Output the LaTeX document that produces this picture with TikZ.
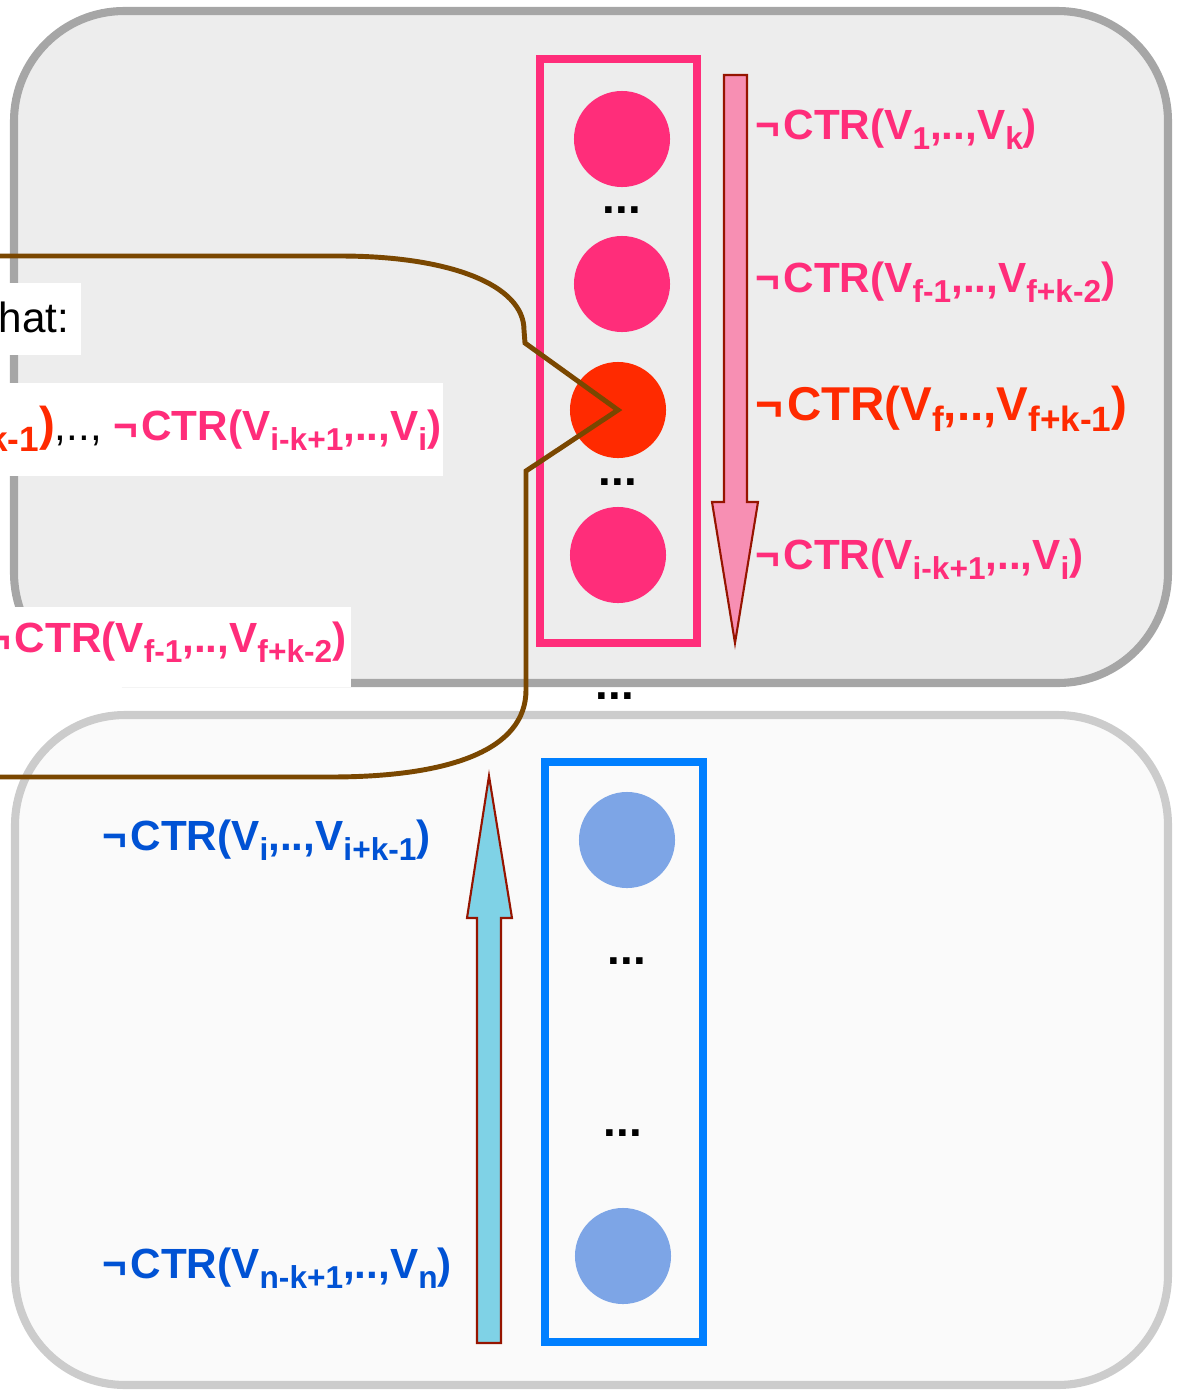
\documentclass[tikz,border=0pt]{standalone}
\usepackage{fontspec}
\setmainfont{Liberation Sans}
\usetikzlibrary{positioning}

\definecolor{ctrpink}{RGB}{255,45,122}
\definecolor{ctrred}{RGB}{255,42,0}
\definecolor{ctrblue}{RGB}{0,82,212}
\definecolor{ballblue}{RGB}{125,165,230}
\definecolor{framblue}{RGB}{0,127,255}
\definecolor{arrpink}{RGB}{247,143,179}
\definecolor{arrcyan}{RGB}{127,210,230}
\definecolor{arredge}{RGB}{150,20,0}
\definecolor{brownline}{RGB}{122,71,0}

% lowered index
\newcommand{\lo}[2][9]{\raisebox{-0.24em}{\fontsize{#1}{#1}\selectfont #2}}
% negation sign
\newcommand{\nt}{¬\kern0.08em}

\begin{document}
\begin{tikzpicture}[x=0.01cm, y=-0.01cm,
  disc/.style={circle, inner sep=0pt, minimum size=0.96cm},
  lab/.style={anchor=base west, inner sep=0pt, font=\bfseries\fontsize{12}{14}\selectfont},
  bigdots/.style={anchor=base, inner sep=0pt, font=\bfseries\fontsize{13}{14}\selectfont}]
  \useasboundingbox (0,0) rectangle (1180,1390);

  % Boxes
  \draw[line width=2.3pt, draw=black!35, fill=black!7, rounded corners=1.1cm] (14,11) rectangle (1168,683);
  \draw[line width=2.3pt, draw=black!20, fill=black!2, rounded corners=1.1cm] (15,715) rectangle (1168,1385);

  % White patches
  \fill[white] (0,283) rectangle (81,355);
  \fill[white] (0,383) rectangle (443,476);
  \fill[white] (0,607) rectangle (351,687);

  % Frames
  \draw[line width=2.3pt, draw=ctrpink] (540,59) rectangle (697,643);
  \draw[line width=2.3pt, draw=framblue] (545,762) rectangle (703,1342);

  % Circles
  \node[disc, fill=ctrpink] (c1) at (622,139) {};
  \node[disc, fill=ctrpink] (c2) at (622,284) {};
  \node[disc, fill=ctrred] (cf) at (618,410) {};
  \node[disc, fill=ctrpink] (c4) at (618,555) {};
  \node[disc, fill=ballblue] (b1) at (627,840) {};
  \node[disc, fill=ballblue] (b2) at (623,1256) {};

  % Dots
  \node[bigdots] (d1) at (622,213) {...};
  \node[bigdots] (d2) at (618,485) {...};
  \node[bigdots] (d3) at (615,699) {...};
  \node[bigdots] (d4) at (627,964) {...};
  \node[bigdots] (d5) at (623,1136) {...};

  % Arrows
  \draw[line width=0.6pt, draw=arredge, fill=arrpink] (724,75) -- (747,75) -- (747,502) -- (758,502) -- (735,643) -- (712,502) -- (724,502) -- cycle;
  \draw[line width=0.6pt, draw=arredge, fill=arrcyan] (477,1343) -- (501,1343) -- (501,918) -- (512,918) -- (489,776) -- (467,918) -- (477,918) -- cycle;

  % Labels
  \node[lab, text=ctrpink] (l1) at (755,139) {\nt CTR(V\lo{1},..,V\lo{k})};
  \node[lab, text=ctrpink] (l2) at (755,292) {\nt CTR(V\lo{f-1},..,V\lo{f+k-2})};
  \node[lab, text=ctrred, font=\bfseries\fontsize{13.5}{15}\selectfont] (l3) at (755,420) {\nt CTR(V\lo[10]{f},..,V\lo[10]{f+k-1})};
  \node[lab, text=ctrpink] (l4) at (755,569) {\nt CTR(V\lo{i-k+1},..,V\lo{i})};
  \node[lab, text=ctrblue] (l5) at (102,850) {\nt CTR(V\lo{i},..,V\lo{i+k-1})};
  \node[lab, text=ctrblue] (l6) at (102,1278) {\nt CTR(V\lo{n-k+1},..,V\lo{n})};

  % Cut texts
  \node[anchor=base east, inner sep=0pt, font=\fontsize{12}{14}\selectfont] (that) at (70,332) {hat:};
  \node[anchor=base east, inner sep=0pt] (seq) at (442,440) {{\color{ctrred}\bfseries\fontsize{13.5}{15}\selectfont\lo[10]{k-1})}{\fontsize{12}{14}\selectfont,..,\ }{\color{ctrpink}\bfseries\fontsize{12}{14}\selectfont \nt CTR(V\lo{i-k+1},..,V\lo{i})}};
  \node[lab, anchor=base east, text=ctrpink] (prev) at (347,652) {\nt CTR(V\lo{f-1},..,V\lo{f+k-2})};

  % Brown outline
  \draw[line width=1.4pt, brownline] (0,256) -- (340,256) .. controls (450,256) and (524,285) .. (524,330) -- (525,343) -- (cf.center) -- (526,471) -- (526,690) .. controls (526,750) and (450,777) .. (330,777) -- (0,777);
\end{tikzpicture}
\end{document}
